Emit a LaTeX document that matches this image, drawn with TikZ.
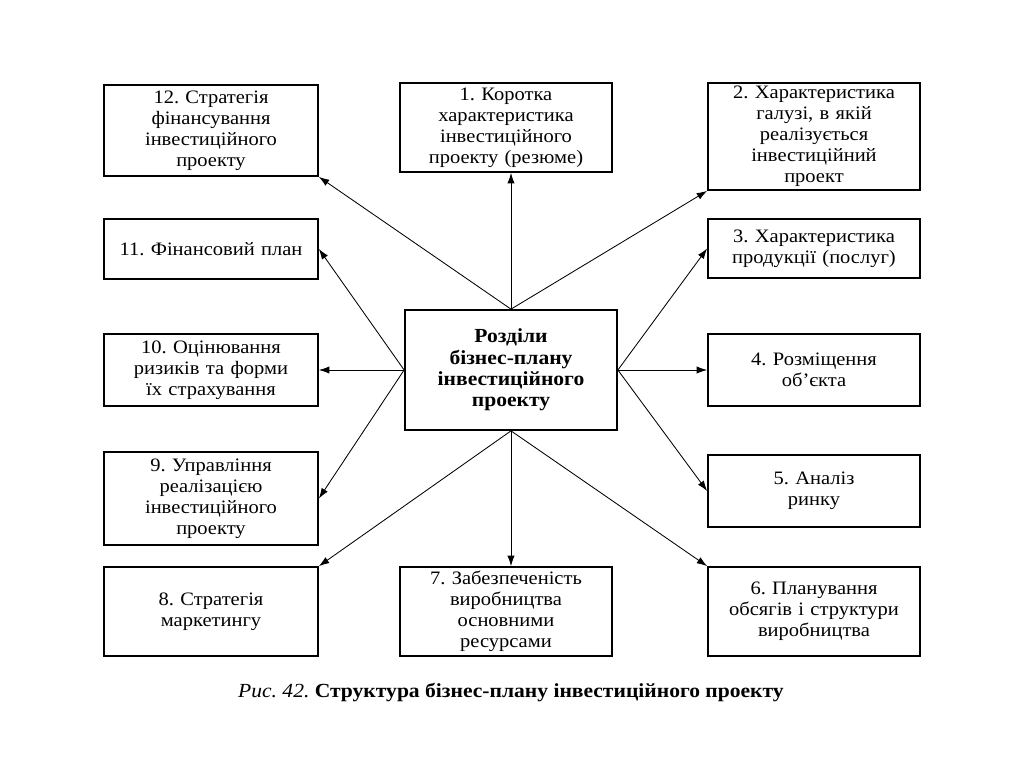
\documentclass[tikz,border=0pt]{standalone}
\usepackage{fontspec}
\setmainfont[FakeStretch=1.08]{Liberation Serif}
\usepackage{tikz}
\usetikzlibrary{arrows.meta,positioning}
\frenchspacing

\begin{document}
\begin{tikzpicture}[x=0.025cm,y=-0.025cm,>={Latex[length=2.6mm,width=1.8mm]},
box/.style={draw,line width=1.2pt,minimum width=5.3cm,text width=5.2cm,align=center,inner sep=1pt,font=\fontsize{13.5}{15}\selectfont},
hub/.style={box,font=\bfseries\fontsize{14.2}{15.2}\selectfont},
arr/.style={->,line width=0.6pt}]
\useasboundingbox (0,0) rectangle (1024,767);
% central node
\node[hub,minimum height=3cm] (c) at (511,370) {Розділи\\бізнес-плану\\інвестиційного\\проекту};
% top row
\node[box,minimum width=5.35cm,minimum height=2.275cm] (b12) at (211,130.5) {12. Стратегія\\фінансування\\інвестиційного\\проекту};
\node[box,minimum height=2.225cm] (b1) at (506,127.5) {1. Коротка\\характеристика\\інвестиційного\\проекту (резюме)};
\node[box,minimum height=2.675cm] (b2) at (814,136.5) {2. Характеристика\\галузі, в якій\\реалізується\\інвестиційний\\проект};
% left column
\node[box,minimum width=5.35cm,minimum height=1.5cm] (b11) at (211,249) {11. Фінансовий план};
\node[box,minimum width=5.35cm,minimum height=1.8cm] (b10) at (211,370) {10. Оцінювання\\ризиків та форми\\їх страхування};
\node[box,minimum width=5.35cm,minimum height=2.325cm] (b9) at (211,498.5) {9. Управління\\реалізацією\\інвестиційного\\проекту};
% right column
\node[box,minimum height=1.475cm] (b3) at (814,248.5) {3. Характеристика\\продукції (послуг)};
\node[box,minimum height=1.8cm] (b4) at (814,370) {4. Розміщення\\об'єкта};
\node[box,minimum height=1.8cm] (b5) at (814,491) {5. Аналіз\\ринку};
% bottom row
\node[box,minimum width=5.35cm,minimum height=2.225cm] (b8) at (211,611.5) {8. Стратегія\\маркетингу};
\node[box,minimum height=2.225cm] (b7) at (506,611.5) {7. Забезпеченість\\виробництва\\основними\\ресурсами};
\node[box,minimum height=2.225cm] (b6) at (814,611.5) {6. Планування\\обсягів і структури\\виробництва};
% caption
\node[font=\fontsize{14.2}{15}\selectfont] (cap) at (511,693) {\textit{Рис. 42.} \textbf{Структура бізнес-плану інвестиційного проекту}};
% arrows
\draw[arr] (c.north) -- (c.north |- b1.south);
\draw[arr] (c.north) -- (b12.south east);
\draw[arr] (c.north) -- (b2.south west);
\draw[arr] (c.west) -- (b11.east);
\draw[arr] (c.west) -- (b10.east);
\draw[arr] (c.west) -- (b9.east);
\draw[arr] (c.east) -- (b3.west);
\draw[arr] (c.east) -- (b4.west);
\draw[arr] (c.east) -- (b5.west);
\draw[arr] (c.south) -- (b8.north east);
\draw[arr] (c.south) -- (c.south |- b7.north);
\draw[arr] (c.south) -- (b6.north west);
\end{tikzpicture}
\end{document}
